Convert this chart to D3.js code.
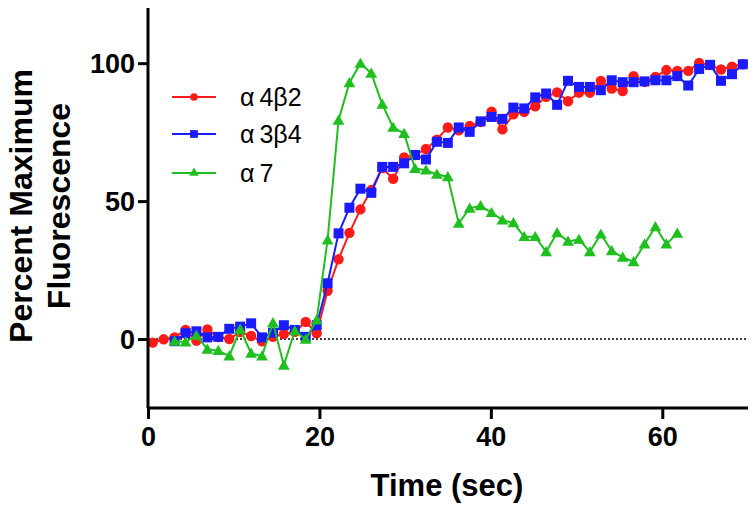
<!DOCTYPE html>
<html>
<head>
<meta charset="utf-8">
<script src="https://cdn.jsdelivr.net/npm/d3@7"></script>
<style>
  html, body { margin: 0; padding: 0; background: #fff; }
  svg { display: block; font-family: "Liberation Sans", Arial, sans-serif; }
</style>
</head>
<body>
<svg id="chart" width="756" height="508"></svg>
<script>
// Time points (sec)
const times = [0.55, 1.83, 3.1, 4.38, 5.65, 6.93, 8.2, 9.48, 10.75, 12.03, 13.3, 14.58, 15.85, 17.13, 18.4, 19.68,
  20.95, 22.23, 23.5, 24.78, 26.05, 27.33, 28.6, 29.88, 31.15, 32.43, 33.7, 34.98, 36.25, 37.53, 38.8, 40.08,
  41.35, 42.63, 43.9, 45.18, 46.45, 47.73, 49.0, 50.28, 51.55, 52.83, 54.1, 55.38, 56.65, 57.93, 59.2, 60.48,
  61.75, 63.03, 64.3, 65.58, 66.85, 68.13, 69.4];

// alpha4beta2 (all time points)
const a4b2 = [-1.3, -0.1, 0.6, 3.3, -0.6, 3.5, 0.7, 0.0, 2.5, 1.1, -0.8, 0.8, 1.8, 2.6, 6.2, 2.1,
  17.5, 28.9, 38.5, 47.0, 54.0, 62.0, 58.1, 65.8, 66.7, 68.9, 72.3, 76.7, 75.7, 77.2, 78.7, 82.4,
  76.0, 81.5, 82.4, 84.4, 87.8, 89.4, 86.2, 89.3, 89.3, 93.6, 90.8, 89.9, 95.3, 93.2, 95.0, 97.5,
  97.2, 97.2, 100.1, 99.3, 97.7, 98.7, 99.6];

// alpha3beta4 (starts at 3rd time point)
const a3b4 = [null, null, -0.8, 2.1, 2.8, 0.6, 0.8, 3.7, 4.5, 5.7, 0.6, 2.3, 5.0, 3.3, 0.8, 5.0,
  20.2, 38.3, 47.6, 54.5, 53.0, 62.4, 62.4, 63.7, 66.7, 65.1, 71.5, 71.1, 76.7, 75.1, 78.9, 80.5,
  79.8, 83.9, 83.6, 87.6, 89.0, 84.9, 93.6, 91.4, 91.4, 90.2, 93.8, 93.1, 93.1, 93.4, 93.8, 93.8,
  95.3, 91.9, 97.9, 99.4, 93.6, 96.0, 99.6];

// alpha7 (3rd to 49th time point)
const a7 = [null, null, -0.8, -1.1, 1.3, -3.7, -4.2, -6.2, 3.5, -5.2, -6.2, 5.9, -9.5, 3.0, -0.1, 6.9,
  35.9, 79.3, 92.9, 99.9, 96.3, 85.1, 76.7, 74.5, 61.8, 61.2, 59.7, 58.8, 41.9, 47.4, 48.3, 45.8,
  43.1, 42.1, 37.1, 37.1, 31.6, 38.5, 35.4, 36.1, 31.6, 38.0, 32.0, 29.6, 28.0, 34.4, 40.7, 34.4,
  38.3, null, null, null, null, null, null];

const seriesNames = ["\u03b14\u03b22", "\u03b13\u03b24", "\u03b17"];
const seriesColors = ["#ff1a1a", "#1a1aff", "#1fbf1f"];
const seriesShapes = ["circle", "square", "triangle"];
const xTicks = [0, 20, 40, 60];
const yTicks = [0, 50, 100];
const xTitle = "Time (sec)";
const yTitle = ["Percent Maximum", "Fluorescence"];

const svg = d3.select("#chart");
const m = { left: 148, right: 8, top: 8, bottom: 100 };
const W = 756, H = 508;
const x = d3.scaleLinear().domain([0, 70]).range([m.left, W - m.right]);
const y = d3.scaleLinear().domain([-25, 120]).range([H - m.bottom, m.top]);

// zero dotted line
svg.append("line")
  .attr("x1", x(0)).attr("x2", x(70))
  .attr("y1", y(0)).attr("y2", y(0))
  .attr("stroke", "#000").attr("stroke-width", 1.5)
  .attr("stroke-dasharray", "2,2");

const symbolFor = (shape, size) => {
  const t = shape === "circle" ? d3.symbolCircle : shape === "square" ? d3.symbolSquare : d3.symbolTriangle;
  return d3.symbol().type(t).size(size)();
};

const allSeries = [a4b2, a3b4, a7];
allSeries.forEach((vals, i) => {
  const pts = times.map((t, k) => ({ t, v: vals[k] })).filter(d => d.v !== null && d.v !== undefined);
  const g = svg.append("g");
  g.append("path")
    .datum(pts)
    .attr("fill", "none")
    .attr("stroke", seriesColors[i])
    .attr("stroke-width", 2)
    .attr("d", d3.line().x(d => x(d.t)).y(d => y(d.v)));
  const sz = seriesShapes[i] === "circle" ? 85 : seriesShapes[i] === "square" ? 100 : 60;
  g.selectAll("path.pt").data(pts).join("path")
    .attr("class", "pt")
    .attr("transform", d => `translate(${x(d.t)},${y(d.v) + (seriesShapes[i] === "triangle" ? 1 : 0)})`)
    .attr("d", symbolFor(seriesShapes[i], sz))
    .attr("fill", seriesColors[i]);
});

// axes
const xAxis = d3.axisBottom(x).tickValues(xTicks).tickSize(11).tickPadding(8).tickFormat(d3.format("d"));
const yAxis = d3.axisLeft(y).tickValues(yTicks).tickSize(10).tickPadding(3).tickFormat(d3.format("d"));

const gx = svg.append("g").attr("transform", `translate(0,${y(-25)})`).call(xAxis);
const gy = svg.append("g").attr("transform", `translate(${x(0)},0)`).call(yAxis);
[gx, gy].forEach(g => {
  g.select(".domain").attr("stroke", "#000").attr("stroke-width", 3);
  g.selectAll(".tick line").attr("stroke", "#000").attr("stroke-width", 3);
  g.selectAll(".tick text").attr("fill", "#000")
    .style("font-family", "'Liberation Sans', Arial, sans-serif")
    .style("font-weight", "bold").style("font-size", "27px");
});
gx.select(".domain").attr("d", `M${x(0)},0H${x(70)}`);
gy.select(".domain").attr("d", `M0,${y(-25)}V${y(120)}`);
gy.selectAll(".tick text").attr("dy", "0.36em");

// axis titles
svg.append("text")
  .attr("x", 447).attr("y", 496)
  .attr("text-anchor", "middle")
  .style("font-weight", "bold").style("font-size", "31px")
  .text(xTitle);

yTitle.forEach((t, i) => {
  svg.append("text")
    .attr("transform", `translate(${32 + i * 38},${206}) rotate(-90)`)
    .attr("text-anchor", "middle")
    .style("font-weight", "bold").style("font-size", "32px")
    .text(t);
});

// legend
const legY = [97, 134, 173];
seriesNames.forEach((name, i) => {
  const g = svg.append("g").attr("transform", `translate(0,${legY[i]})`);
  g.append("line").attr("x1", 172).attr("x2", 216).attr("y1", 0).attr("y2", 0)
    .attr("stroke", seriesColors[i]).attr("stroke-width", 2);
  const sz = seriesShapes[i] === "circle" ? 45 : seriesShapes[i] === "square" ? 60 : 40;
  g.append("path").attr("d", symbolFor(seriesShapes[i], sz))
    .attr("transform", `translate(194,0)`)
    .attr("fill", seriesColors[i]);
  const txt = g.append("text").attr("x", 240).attr("y", 9)
    .style("font-size", "25px").style("fill", "#000");
  const chars = name.split("");
  chars.forEach((c, j) => {
    txt.append("tspan").attr("dx", j === 1 ? 5 : 0).text(c);
  });
});
</script>
</body>
</html>
